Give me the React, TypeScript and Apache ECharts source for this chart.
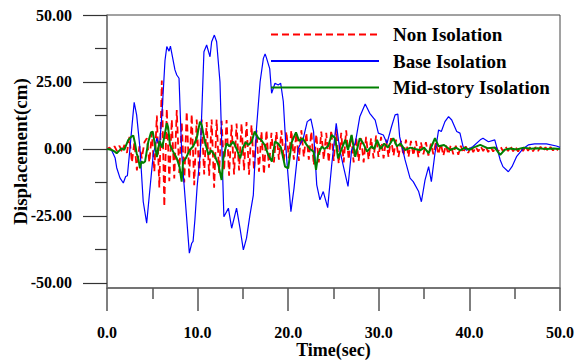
import React, { useEffect, useRef } from "react";
import * as echarts from "echarts";

const SERIES_NAMES = ["Non Isolation", "Base Isolation", "Mid-story Isolation"];
const COLORS = ["#ff0000", "#0000ff", "#008000"];
const Y_TICKS = [-50, -25, 0, 25, 50];
const Y_MINOR_TICKS = [-37.5, -12.5, 12.5, 37.5];
const X_MIN = 0;
const X_MAX = 50;
const X_INTERVAL = 10;

// Non isolation: sampled every RED_DT seconds
const RED_DT = 0.275;
const nonIsolation = [
  0, 0.5, -0.6, 1, -0.8, 1.2, -1, 1.5,
  -1.5, 4.5, -5, 2.5, -8, 1, -3.5, 2.5,
  4, -5, 6, -8.5, 12.5, -14.5, 25.5, -21.5,
  15, -12, 11, -11, 14.5, -9, 10, -12.5,
  14, -11, 13, -13.5, 11, -10, 11, -9.5,
  10, -10, 11, -14.5, 11, -9, 10.5, -8,
  10.8, -10, 9, -9.5, 9.5, -8, 9.5, -8,
  10, -9.6, 9, -8, 7, -8.5, 6.5, -9.5,
  7, -7, 6, -5, 6.5, -4, 7, -4.5,
  6.5, -3.5, 7, -4, 6, -4.5, 7, -3,
  6, -4, 6.5, -6, 5.5, -5, 6.5, -4,
  6, -5, 7, -4.5, 7.5, -5.5, 6, -5,
  7, -4, 5, -5, 4.5, -4.5, 4, -5,
  4.5, -4, 4, -3.5, 5, -3, 4.5, -3.5,
  3.5, -3, 4, -2.5, 3.5, -3, 3, -2.5,
  3.5, -3, 3, -2.5, 3, -3, 2.5, -2,
  2.5, -2.5, 2, -2, 2.5, -2, 2, -2.5,
  1.5, -2, 1.5, -2, 1.2, -2.2, 1.2, -1.5,
  1, -1.5, 1, -1.2, 0.8, -1, 1, -0.8,
  0.9, -1.2, 0.7, -1, 1, -0.9, 0.8, -1,
  0.9, -0.8, 1, -0.9, 0.8, -1, 0.7, -0.8,
  0.9, -0.7, 0.8, -0.9, 0.7, -0.8, 0.8, -0.7,
  0.6, -0.8, 0.7, -0.6, 0.6, -0.5,
];

// Base isolation: [time, displacement]
const baseIsolation: [number, number][] = [
  [0, 0], [0.5, -0.4], [0.9, -3.4], [1.07, -7], [1.43, -10.8], [1.8, -12.7],
  [2.06, -10.3], [2.25, -10], [2.54, 0.4], [2.8, 10.2], [3.0, 17.4], [3.27, 12.7],
  [3.64, 0.2], [4.0, -19.7], [4.38, -27.7], [4.75, -14.5], [5.1, -2.2], [5.5, 4],
  [5.8, 1], [6.1, 15], [6.4, 33], [6.6, 38.2], [6.85, 36.5], [7.0, 38.4],
  [7.5, 29.5], [7.7, 27.6], [7.95, 26.4], [8.24, -1.5], [9.09, -38.9], [9.35, -35.2],
  [9.5, -34.5], [9.7, -26.5], [9.95, -14], [10.3, -1.5], [10.7, 36.3], [11.0, 38.8],
  [11.37, 34.4], [11.55, 40], [11.85, 42.5], [12.1, 40], [12.47, 25], [12.9, -25.3],
  [13.4, -22.1], [13.76, -29.6], [14.3, -22.1], [14.68, -29.6], [15.05, -37.7], [15.4, -33.3],
  [15.78, -24.6], [16.15, -17.2], [16.5, 7.7], [16.9, 25.1], [17.26, 33.8], [17.45, 35.5],
  [17.6, 34], [17.96, 30], [18.17, 20.8], [18.54, 24.5], [18.9, 23.9], [19.17, 24.5],
  [19.46, 17.7], [19.8, -2.2], [20.3, -23.4], [20.64, -14.7], [21.1, 0.2], [21.67, 4],
  [22.1, 10.2], [22.5, 11.2], [22.8, 6.5], [23.15, -13.4], [23.5, -19], [23.87, -15.9],
  [24.36, -21.9], [24.8, -6], [25.3, 9.6], [25.7, -0.4], [26.1, -6.6], [26.6, -14],
  [27.0, -0.4], [27.4, 2.1], [27.9, 12], [28.5, 16.8], [29.0, 13.3], [29.6, 10.8],
  [29.95, 5.9], [30.5, 5.2], [30.9, 2.1], [31.4, 8.3], [31.8, 12.7], [32.1, 13],
  [32.3, 4.6], [32.9, -4.1], [33.45, -10.9], [33.8, -12.2], [34.4, -15.9], [34.7, -19.7],
  [35.1, -11.6], [35.5, -6.6], [35.8, -12.2], [36.2, -1.6], [36.6, 7.1], [36.9, 6.5],
  [37.3, 10.2], [37.7, 12.1], [38.05, 10.8], [38.6, 6.5], [38.96, 5.9], [39.3, 0.9],
  [39.7, -0.5], [40.4, 0.9], [41.2, 3.4], [41.5, 4], [42.1, 2.7], [42.8, 3.4],
  [43.4, -4.1], [43.7, -6.6], [44.3, -8.5], [44.7, -6.6], [45.2, -2.9], [45.95, 0.2],
  [46.5, 1.5], [47.2, 1.9], [48.5, 1.9], [49.6, 1.1], [50, 0.6],
];

// Mid-story isolation: [time, displacement]
const midStoryIsolation: [number, number][] = [
  [0, 0], [0.5, -0.3], [0.87, -1], [1.07, -1.6], [1.3, -0.8], [1.6, 0.2],
  [1.9, -0.3], [2.35, 3.4], [2.7, 4.6], [2.9, 5], [3.1, 2], [3.27, -1.6],
  [3.45, -3.5], [3.64, -7.2], [3.8, -4.7], [4.0, -5.2], [4.2, -4.7], [4.56, 2.7],
  [4.86, 6.2], [5.04, 6.5], [5.3, 1.5], [5.5, -3], [5.8, 3], [6.1, 0.5],
  [6.35, 5], [6.6, 9.6], [6.75, 8], [6.95, 1.5], [7.3, -1], [7.7, -3.5],
  [8.0, -6.6], [8.24, -12.2], [8.4, -4.7], [8.7, -3.5], [9.1, -0.5], [9.5, 0.9],
  [9.9, 4], [10.26, 10.2], [10.45, 9], [10.8, 2.7], [11.2, -2.2], [11.5, -0.5],
  [11.9, -2.5], [12.3, -6], [12.65, -11.6], [12.84, -3.5], [13.2, 2.1], [13.5, 1],
  [13.94, 2.7], [14.3, 0], [14.7, -3.5], [15.0, 0.5], [15.3, 2.5], [15.6, 1.5],
  [15.97, 2.7], [16.3, 6.5], [16.7, 4], [17.0, 3.5], [17.4, 1.5], [17.8, -2.2],
  [18.2, -4.7], [18.54, 2.7], [18.9, 2], [19.2, 0.5], [19.65, -6.6], [20.0, -7.2],
  [20.4, 2.7], [20.86, 6.2], [21.2, 3], [21.6, 4], [22.04, 1.5], [22.4, 0],
  [22.8, -1], [23.07, -7.8], [23.3, -2.2], [23.7, 0.9], [24.0, 0], [24.4, 1],
  [24.8, 5.2], [25.2, 4], [25.5, -3.5], [25.9, 0], [26.3, 3.4], [26.6, -0.4],
  [27.0, 5.2], [27.4, -2.9], [27.9, 4], [28.3, 2], [28.7, -1], [29.2, 1],
  [29.5, 0], [29.8, 3.4], [30.2, 0], [30.6, 2], [31.0, 0.5], [31.6, 4],
  [32.0, 1], [32.4, 2], [32.9, -0.4], [33.5, 0.5], [34.0, 0], [34.6, -0.5],
  [35.0, 0.5], [35.5, -1.6], [36.2, 4], [36.6, 1], [37.2, 1.5], [37.9, -0.4],
  [38.5, 0.5], [39.0, -0.5], [39.5, 0.5], [40.0, -0.3], [40.5, 0.6], [41.2, 1.5],
  [42.0, 0.3], [42.8, 0.5], [43.4, -2.2], [43.9, -0.3], [44.5, 0.2], [45.2, -0.2],
  [46.0, 0.5], [46.8, 0.1], [47.5, 0.3], [48.5, 0], [49.3, 0.2], [50, 0],
];

const FONT = "Liberation Serif";

export default function App() {
  const ref = useRef<HTMLDivElement>(null);
  useEffect(() => {
    if (!ref.current) return;
    const chart = echarts.init(ref.current, null, { renderer: "svg" });
    const nonData = nonIsolation.map((v, i) => [i * RED_DT, v]);
    chart.setOption({
      animation: false,
      backgroundColor: "#ffffff",
      grid: {
        left: 107,
        right: 25,
        top: 15,
        bottom: 73,
        containLabel: false,
        outerBoundsMode: "none",
        show: true,
        borderColor: "#444",
        borderWidth: 1,
      },
      legend: {
        orient: "vertical",
        left: 270,
        top: 25,
        padding: 0,
        itemWidth: 108,
        itemHeight: 10,
        itemGap: 7.5,
        data: SERIES_NAMES,
        itemStyle: { opacity: 0 },
        textStyle: {
          fontFamily: FONT,
          fontWeight: "bold",
          fontSize: 19,
          lineHeight: 19,
          color: "#000",
          padding: [0, 0, 0, 9],
        },
      },
      xAxis: {
        type: "value",
        min: X_MIN,
        max: X_MAX,
        interval: X_INTERVAL,
        name: "Time(sec)",
        nameLocation: "middle",
        nameGap: 53,
        nameMoveOverlap: false,
        nameTextStyle: { fontFamily: FONT, fontWeight: "bold", fontSize: 18, lineHeight: 18, color: "#000" },
        axisLine: { show: true, onZero: false, lineStyle: { color: "#666", width: 1.5 } },
        axisTick: { show: true, length: 23, lineStyle: { color: "#555", width: 1.5 } },
        minorTick: { show: true, splitNumber: 2, length: 11, lineStyle: { color: "#555", width: 1.5 } },
        splitLine: { show: false },
        axisLabel: {
          margin: 36,
          fontFamily: FONT,
          fontWeight: "bold",
          fontSize: 16,
          color: "#000",
          formatter: (v: number) => v.toFixed(1),
        },
      },
      yAxis: [
        {
          type: "value",
          min: -51.9,
          max: 50,
          name: "Displacement(cm)",
          nameLocation: "middle",
          nameGap: 77,
          nameMoveOverlap: false,
          nameTextStyle: { fontFamily: FONT, fontWeight: "bold", fontSize: 19, color: "#000" },
          axisLine: { show: true, onZero: false, lineStyle: { color: "#777", width: 1.5 } },
          axisTick: { show: true, length: 24, customValues: Y_TICKS, lineStyle: { color: "#333", width: 1.2 } },
          splitLine: { show: false },
          axisLabel: {
            margin: 35,
            customValues: Y_TICKS,
            fontFamily: FONT,
            fontWeight: "bold",
            fontSize: 16,
            color: "#000",
            formatter: (v: number) => v.toFixed(2),
          },
        },
        {
          type: "value",
          min: -51.9,
          max: 50,
          position: "left",
          axisLine: { show: false, onZero: false },
          axisTick: { show: true, length: 12, customValues: Y_MINOR_TICKS, lineStyle: { color: "#333", width: 1.2 } },
          axisLabel: { show: false },
          splitLine: { show: false },
        },
      ],
      series: [
        {
          name: SERIES_NAMES[0],
          type: "line",
          data: nonData,
          showSymbol: false,
          symbol: "none",
          lineStyle: { color: COLORS[0], width: 1.8, type: [7, 4] },
          itemStyle: { color: COLORS[0] },
        },
        {
          name: SERIES_NAMES[1],
          type: "line",
          data: baseIsolation,
          showSymbol: false,
          symbol: "none",
          lineStyle: { color: COLORS[1], width: 1.2 },
          itemStyle: { color: COLORS[1] },
        },
        {
          name: SERIES_NAMES[2],
          type: "line",
          data: midStoryIsolation,
          showSymbol: false,
          symbol: "none",
          lineStyle: { color: COLORS[2], width: 2 },
          itemStyle: { color: COLORS[2] },
        },
      ],
    });
    return () => chart.dispose();
  }, []);
  return (
    <div
      ref={ref}
      style={{ position: "absolute", left: 0, top: 0, width: 585, height: 361 }}
    />
  );
}
